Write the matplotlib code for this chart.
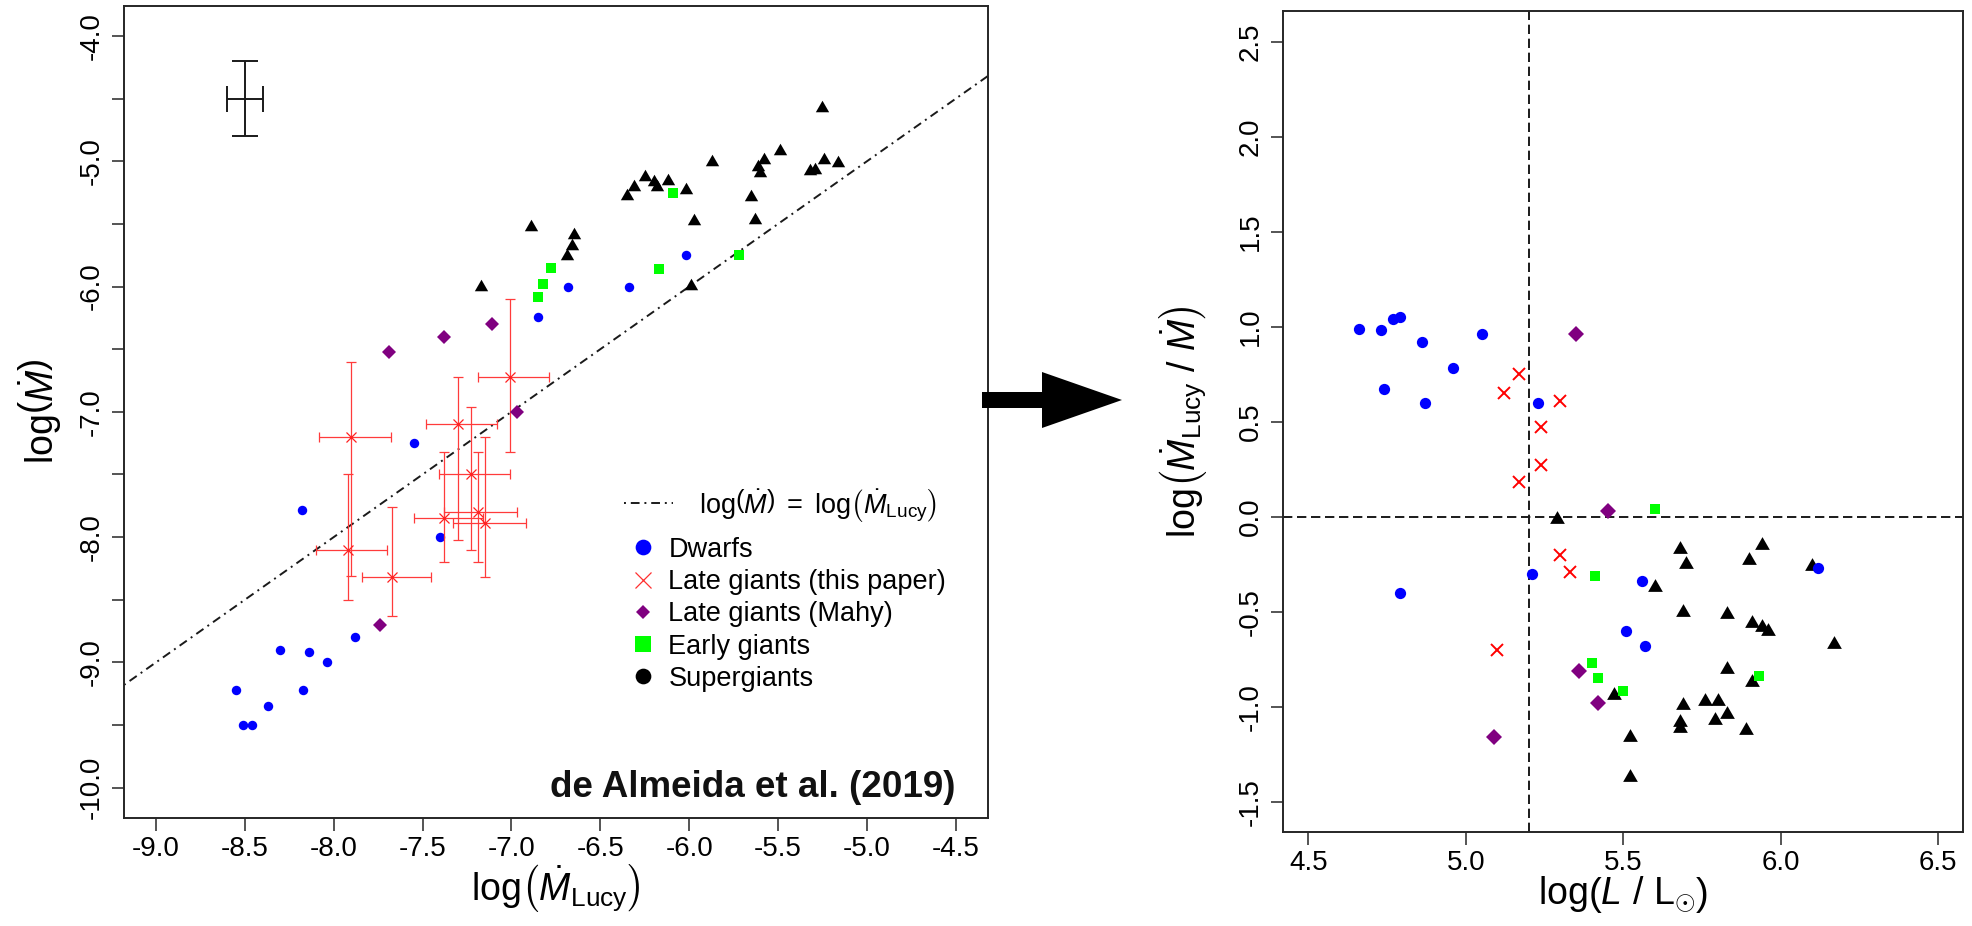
import matplotlib
matplotlib.use("Agg")
import matplotlib.pyplot as plt
import numpy as np
from matplotlib.lines import Line2D
from matplotlib.patches import Polygon

plt.rcParams["font.family"] = ["Liberation Sans", "DejaVu Sans"]
plt.rcParams["mathtext.fontset"] = "custom"
plt.rcParams["mathtext.rm"] = "Liberation Sans"
plt.rcParams["mathtext.it"] = "Liberation Sans:italic"
plt.rcParams["mathtext.bf"] = "Liberation Sans:bold"
plt.rcParams["axes.unicode_minus"] = False

# ---- left panel: log(Mdot) against log(Mdot_Lucy) ----
dw_lucy = [-8.55, -8.51, -8.46, -8.37, -8.30, -8.17, -8.14, -8.04, -7.88,
           -8.18, -7.55, -7.40, -6.85, -6.68, -6.34, -6.02]
dw_mdot = [-9.22, -9.50, -9.50, -9.35, -8.90, -9.22, -8.92, -9.00, -8.80,
           -7.78, -7.25, -8.00, -6.24, -6.00, -6.00, -5.75]

lg_lucy = [-7.90, -7.92, -7.67, -7.30, -7.23, -7.38, -7.19, -7.15, -7.01]
lg_mdot = [-7.20, -8.10, -8.32, -7.10, -7.50, -7.85, -7.80, -7.89, -6.72]
lg_lucy_lo = [-8.08, -8.10, -7.84, -7.48, -7.41, -7.55, -7.38, -7.33, -7.19]
lg_lucy_hi = [-7.68, -7.70, -7.45, -7.08, -7.01, -7.16, -6.97, -6.92, -6.79]
lg_mdot_lo = [-8.31, -8.50, -8.63, -8.02, -8.10, -8.20, -8.20, -8.32, -7.32]
lg_mdot_hi = [-6.60, -7.50, -7.76, -6.72, -6.96, -7.32, -7.32, -7.20, -6.10]

mh_lucy = [-7.69, -7.38, -7.11, -6.97, -7.74]
mh_mdot = [-6.52, -6.40, -6.30, -7.00, -8.70]

eg_lucy = [-6.78, -6.82, -6.85, -6.09, -6.17, -5.72]
eg_mdot = [-5.85, -5.98, -6.08, -5.25, -5.86, -5.75]

sg_lucy = [-6.65, -6.66, -6.69, -6.35, -6.31, -6.25, -6.20, -6.18, -6.12,
           -6.02, -5.87, -5.97, -5.99, -5.65, -5.63, -5.61, -5.60, -5.58,
           -5.49, -5.25, -5.32, -5.29, -5.24, -5.16, -6.89, -7.17]
sg_mdot = [-5.57, -5.66, -5.74, -5.26, -5.19, -5.11, -5.15, -5.19, -5.14,
           -5.21, -4.99, -5.46, -5.98, -5.27, -5.45, -5.03, -5.08, -4.97,
           -4.90, -4.56, -5.06, -5.05, -4.97, -5.00, -5.51, -5.99]

# typical error bar drawn top left
typ_x, typ_y, typ_dx, typ_dy = -8.5, -4.5, 0.1, 0.3

# ---- right panel: log(Mdot_Lucy / Mdot) against log(L/Lsun) ----
dw_logL = [4.66, 4.73, 4.77, 4.79, 4.86, 5.05, 4.96, 4.74, 4.87, 5.23,
           4.79, 5.21, 5.56, 5.51, 5.57, 6.12]
dw_ratio = [0.99, 0.98, 1.04, 1.05, 0.92, 0.96, 0.78, 0.67, 0.60, 0.60,
            -0.40, -0.30, -0.34, -0.60, -0.68, -0.27]

lg_logL = [5.17, 5.12, 5.30, 5.24, 5.24, 5.17, 5.30, 5.33, 5.10]
lg_ratio = [0.75, 0.65, 0.61, 0.47, 0.27, 0.18, -0.20, -0.29, -0.70]

mh_logL = [5.35, 5.45, 5.36, 5.42, 5.09]
mh_ratio = [0.96, 0.03, -0.81, -0.98, -1.16]

eg_logL = [5.41, 5.40, 5.42, 5.60, 5.50, 5.93]
eg_ratio = [-0.31, -0.77, -0.85, 0.04, -0.92, -0.84]

sg_logL = [5.29, 5.47, 5.68, 5.70, 5.94, 5.90, 6.10, 5.60, 5.69, 5.83,
           5.91, 5.94, 5.96, 6.17, 5.83, 5.91, 5.69, 5.76, 5.80, 5.83,
           5.79, 5.68, 5.68, 5.89, 5.52, 5.52]
sg_ratio = [0.00, -0.93, -0.16, -0.24, -0.14, -0.22, -0.25, -0.36, -0.49,
            -0.50, -0.55, -0.57, -0.59, -0.66, -0.79, -0.86, -0.98, -0.96,
            -0.96, -1.03, -1.06, -1.07, -1.10, -1.11, -1.15, -1.36]

L_CUT = 5.2

C_DW, C_LG, C_MH, C_EG, C_SG = "#0000ff", "#ff0000", "#800080", "#00ff00", "#000000"
INK = "#1a1a1a"
TRI = [(-1, -0.866), (1, -0.866), (0, 0.866)]     # equilateral, like R pch 17
DASHDOT = (0, (1, 2.5, 4.5, 2.5))
DASHED = (0, (4.8, 2.4))

W, H = 1972, 926
fig = plt.figure(figsize=(W / 100, H / 100), dpi=100)


def px_box(l, t, r, b):
    return [l / W, 1 - b / H, (r - l) / W, (b - t) / H]


def style(ax):
    for s in ax.spines.values():
        s.set_linewidth(1.4)
        s.set_color("#262626")
    ax.tick_params(direction="out", length=9, width=1.1, color="#262626",
                   labelsize=20)
    ax.tick_params(axis="x", pad=4)
    ax.tick_params(axis="y", pad=5)


ax1 = fig.add_axes(px_box(124, 6, 987.7, 817.7))
ax2 = fig.add_axes(px_box(1283.3, 11.3, 1963.3, 832))
style(ax1)
style(ax2)

# ---- left ----
ax1.axline((0, 0), slope=1, color=INK, lw=1.4, ls=DASHDOT)
ax1.errorbar([typ_x], [typ_y], xerr=typ_dx, yerr=typ_dy, fmt="none",
             ecolor=INK, elinewidth=1.4, capsize=9.7, capthick=1.4)
ax1.plot(sg_lucy, sg_mdot, ls="none", marker=TRI, ms=9.6, mew=0, color=C_SG)
ax1.plot(dw_lucy, dw_mdot, ls="none", marker="o", ms=6.8, mew=0, color=C_DW)
xerr = [np.subtract(lg_lucy, lg_lucy_lo), np.subtract(lg_lucy_hi, lg_lucy)]
yerr = [np.subtract(lg_mdot, lg_mdot_lo), np.subtract(lg_mdot_hi, lg_mdot)]
ax1.errorbar(lg_lucy, lg_mdot, xerr=xerr, yerr=yerr, fmt="none",
             ecolor="#ff3b3b", elinewidth=0.9, capsize=3.6, capthick=0.9)
ax1.plot(lg_lucy, lg_mdot, ls="none", marker="x", ms=7.2, mew=0.9, color="#ff2020")
ax1.plot(mh_lucy, mh_mdot, ls="none", marker="D", ms=6.8, mew=0, color=C_MH)
ax1.plot(eg_lucy, eg_mdot, ls="none", marker="s", ms=7.7, mew=0, color=C_EG)

ax1.set_xlim(-9.18, -4.32)
ax1.set_ylim(-10.24, -3.76)
xt = np.arange(-9.0, -4.49, 0.5)
ax1.set_xticks(xt, [f"{v:.1f}" for v in xt])
yt = np.arange(-10.0, -3.99, 0.5)
ax1.set_yticks(yt, [f"{v:.1f}" if v == round(v) else "" for v in yt],
               rotation=90, va="center")

ax1.set_xlabel(r"$\mathrm{log}\left(\dot{M}_{\mathrm{Lucy}}\right)$", fontsize=27, va="center")
ax1.xaxis.set_label_coords(0.5, (817.7 - 888) / 811.7)
ax1.set_ylabel(r"$\mathrm{log}\left(\dot{M}\right)$", fontsize=27, va="center")
ax1.yaxis.set_label_coords((40 - 124) / 863.7, 0.5)

ax1.text(-4.5, -10.0, "de Almeida et al. (2019)", ha="right", va="center",
         fontsize=26.5, fontweight="bold", color="#111111")

eq = r"$\mathrm{log}\left(\dot{M}\right)\ =\ \mathrm{log}\left(\dot{M}_{\mathrm{Lucy}}\right)$"
leg1 = ax1.legend([Line2D([], [], color=INK, lw=1.4, ls=DASHDOT)], [eq],
                  loc="center left", bbox_to_anchor=((624.3 - 124) / 863.7, (817.7 - 505) / 811.7),
                  frameon=False, fontsize=19.5, handlelength=1.81, handletextpad=0.96,
                  borderpad=0, borderaxespad=0)
ax1.add_artist(leg1)
handles = [
    Line2D([], [], ls="none", marker="o", ms=11.3, mew=0, color=C_DW),
    Line2D([], [], ls="none", marker="x", ms=11.5, mew=0.9, color="#ff3030"),
    Line2D([], [], ls="none", marker="D", ms=7.6, mew=0, color=C_MH),
    Line2D([], [], ls="none", marker="s", ms=11.5, mew=0, color=C_EG),
    Line2D([], [], ls="none", marker="o", ms=11.3, mew=0, color=C_SG),
]
labels = ["Dwarfs", "Late giants (this paper)", "Late giants (Mahy)",
          "Early giants", "Supergiants"]
ax1.legend(handles, labels, loc="center left",
           bbox_to_anchor=((629.2 - 124) / 863.7, (817.7 - 614.3) / 811.7),
           frameon=False, fontsize=19.5, handlelength=1.0, handletextpad=0.445,
           labelspacing=0.23, borderpad=0, borderaxespad=0)

# ---- right ----
ax2.axhline(0, color=INK, lw=1.4, ls=DASHED)
ax2.axvline(L_CUT, color=INK, lw=1.4, ls=DASHED)
ax2.plot(sg_logL, sg_ratio, ls="none", marker=TRI, ms=10.6, mew=0, color=C_SG)
ax2.plot(dw_logL, dw_ratio, ls="none", marker="o", ms=8.1, mew=0, color=C_DW)
ax2.plot(lg_logL, lg_ratio, ls="none", marker="x", ms=8.6, mew=1.4, color=C_LG)
ax2.plot(mh_logL, mh_ratio, ls="none", marker="D", ms=7.8, mew=0, color=C_MH)
ax2.plot(eg_logL, eg_ratio, ls="none", marker="s", ms=7.9, mew=0, color=C_EG)

ax2.set_xlim(4.42, 6.58)
ax2.set_ylim(-1.66, 2.66)
xt2 = np.arange(4.5, 6.51, 0.5)
ax2.set_xticks(xt2, [f"{v:.1f}" for v in xt2])
yt2 = np.arange(-1.5, 2.51, 0.5)
ax2.set_yticks(yt2, [f"{v:.1f}" for v in yt2], rotation=90, va="center")
ax2.set_xlabel(r"$\mathrm{log}\left(L\ /\ \mathrm{L}_{\odot}\right)$", fontsize=27, va="center")
ax2.xaxis.set_label_coords(0.5, (832 - 895) / 820.7)
ax2.set_ylabel(r"$\mathrm{log}\left(\dot{M}_{\mathrm{Lucy}}\ /\ \dot{M}\right)$", fontsize=27, va="center")
ax2.yaxis.set_label_coords((1183 - 1283.3) / 680, 0.5)

# ---- arrow linking the two panels ----
arrow_px = [(982, 392), (1042, 392), (1042, 372), (1122, 400),
            (1042, 428), (1042, 408), (982, 408)]
fig.add_artist(Polygon([(x / W, 1 - y / H) for x, y in arrow_px], closed=True,
                       transform=fig.transFigure, facecolor="black",
                       edgecolor="none", zorder=5))

fig.savefig("out.png", dpi=100)
